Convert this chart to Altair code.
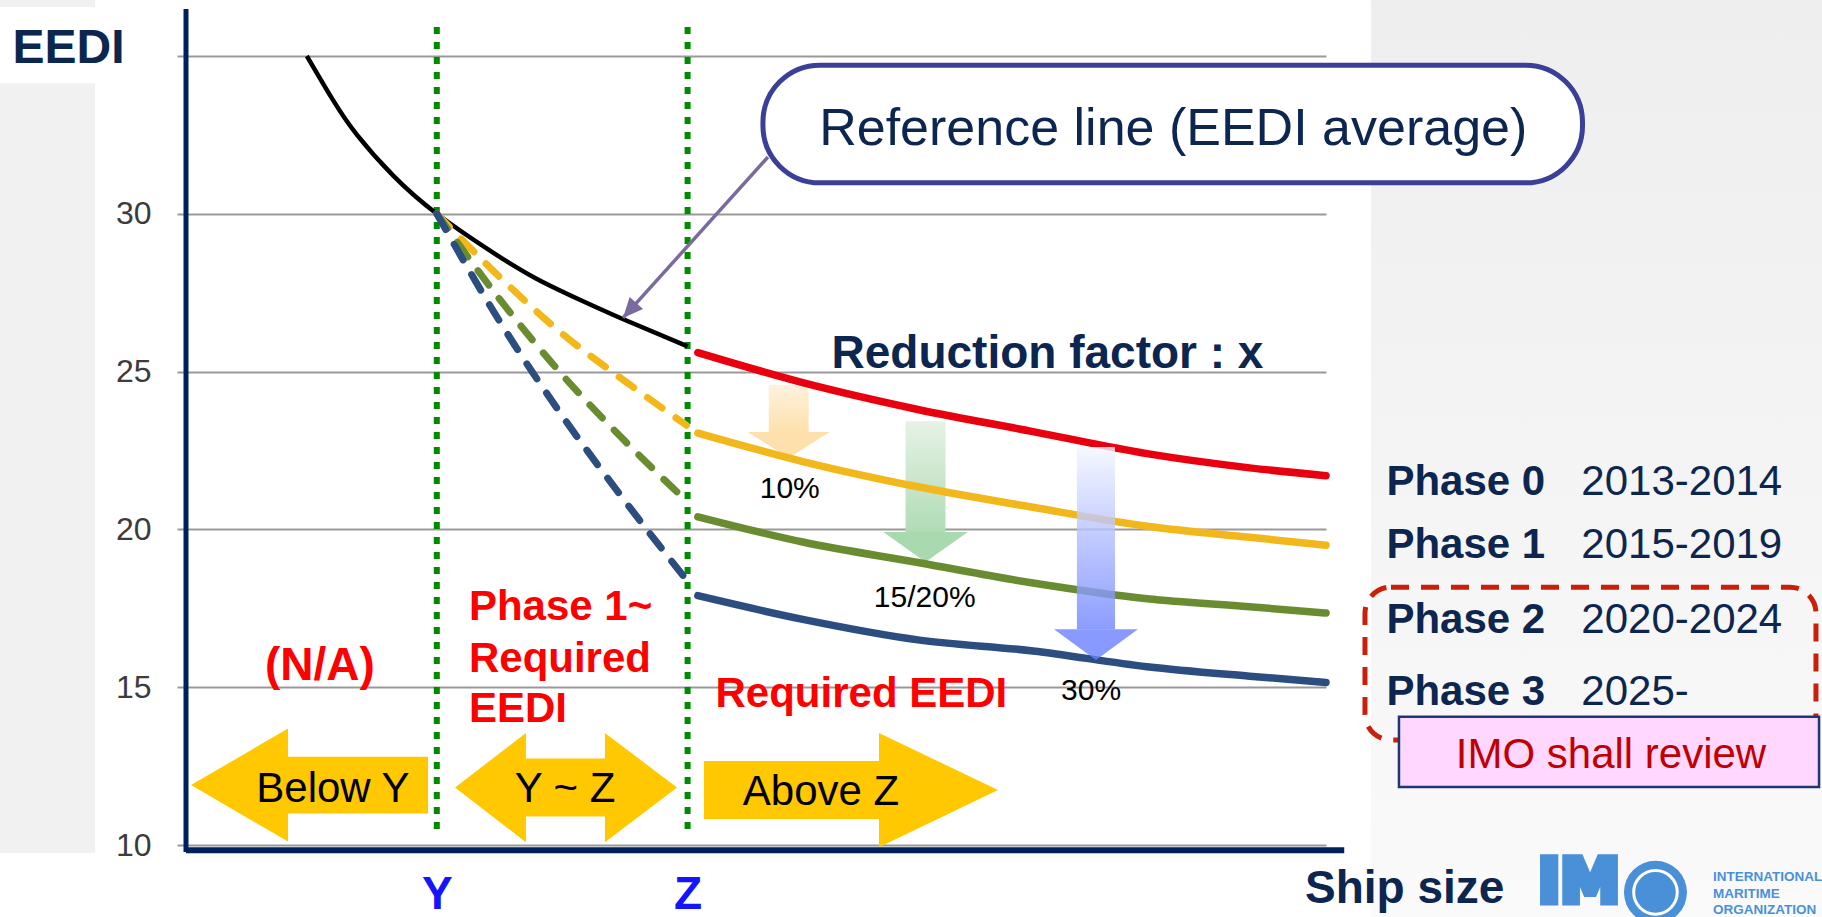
import altair as alt
import pandas as pd

# ---------------------------------------------------------------- data
# Ship size runs 0..100 along the x axis (arbitrary units), EEDI on y.

# reference line: average EEDI of existing ships
ref_size = [10.6, 12.9, 15.0, 18.2, 22.0, 26.8, 30.7, 34.4, 38.1, 44.0]
ref_eedi = [35.0, 33.6, 32.5, 31.2, 30.0, 28.8, 27.95, 27.3, 26.7, 25.8]

# required EEDI for ships above size Z, one line per phase
req_size = [44.9, 54.1, 64.2, 74.3, 84.3, 93.3, 100.0]
phase0_eedi = [25.6, 24.65, 23.8, 23.1, 22.4, 21.95, 21.7]
phase1_eedi = [23.05, 22.15, 21.35, 20.7, 20.1, 19.75, 19.5]
phase2_eedi = [20.4, 19.6, 18.95, 18.3, 17.8, 17.55, 17.35]
phase3_eedi = [17.9, 17.15, 16.5, 16.15, 15.65, 15.35, 15.15]

# between Y and Z the requirement ramps down from the reference value
ramp_size = [22.0, 27.5, 33.0, 38.5, 43.9]
ramp_phase1 = [30.0, 28.0, 26.2, 24.7, 23.3]
ramp_phase2 = [30.0, 27.3, 24.9, 22.8, 20.9]
ramp_phase3 = [30.0, 26.6, 23.6, 20.9, 18.4]

phase_names = ["Phase 0", "Phase 1", "Phase 2", "Phase 3"]
phase_years = ["2013-2014", "2015-2019", "2020-2024", "2025-"]
reduction_labels = ["10%", "15/20%", "30%"]

size_bounds = [22.0, 44.0]
bound_names = ["Y", "Z"]
eedi_ticks = [10, 15, 20, 25, 30, 35]

# ---------------------------------------------------------------- styles
NAVY = "#0c2650"
RED = "#ff0000"
YELLOW = "#ffc800"
LOGO = "#4a90d9"
SANS = "Liberation Sans"
phase_colors = ["#e8000e", "#f2b71b", "#6a8c30", "#2c4d7f"]

x_scale = alt.Scale(domain=[0, 100], nice=False, zero=False)
y_scale = alt.Scale(domain=[10, 35], nice=False, zero=False)

bound_expr = " : ".join(
    f"datum.value == {v} ? '{n}'" for v, n in zip(size_bounds, bound_names)
) + " : ''"

x_axis = alt.Axis(
    title=None, values=size_bounds, labelExpr=bound_expr, grid=False,
    ticks=False, tickSize=0, domain=False, labelFont=SANS, labelFontSize=46,
    labelFontWeight="bold", labelColor="#1414ff", labelPadding=27,
)
y_axis = alt.Axis(
    title=None, values=eedi_ticks, labelExpr="datum.value == 35 ? '' : datum.label",
    grid=True, gridColor="#999999", gridWidth=2, ticks=True, tickSize=9,
    tickWidth=2, tickColor="#999999", domain=False, labelFont=SANS,
    labelFontSize=32, labelColor="#3c3c3c", labelPadding=26,
)


def ex(field):
    return alt.X(field, type="quantitative", scale=x_scale, axis=x_axis)


def ey(field):
    return alt.Y(field, type="quantitative", scale=y_scale, axis=y_axis)


def vgrad(top, bottom):
    return {"gradient": "linear", "x1": 0, "y1": 0, "x2": 0, "y2": 1,
            "stops": [{"offset": 0, "color": top}, {"offset": 1, "color": bottom}]}


def box(x0, x1, y0, y1, **style):
    df = pd.DataFrame({"x0": [x0], "x1": [x1], "y0": [y0], "y1": [y1]})
    return alt.Chart(df).mark_rect(**style).encode(
        x=ex("x0"), x2=alt.X2("x1"), y=ey("y0"), y2=alt.Y2("y1"))


def text(rows, **style):
    df = pd.DataFrame(rows, columns=["x", "y", "t"])
    style.setdefault("font", SANS)
    return alt.Chart(df).mark_text(baseline="alphabetic", **style).encode(
        x=ex("x"), y=ey("y"), text="t:N")


layers = []

# ---------------------------------------------------------------- backdrop
layers.append(box(-16.4, -7.98, 34.14, 9.75, color="#f1f1f1"))
layers.append(box(-16.4, -7.98, 36.8, 36.55, color="#f1f1f1"))
layers.append(box(103.95, 144.0, 36.8, 7.6, fill=vgrad("#eeeeee", "#fbfafb")))

# axis lines
axis_df = pd.DataFrame({"x": [0.0], "y0": [36.49], "y1": [9.78]})
layers.append(alt.Chart(axis_df).mark_rule(color="#00205b", strokeWidth=5).encode(
    x=ex("x"), y=ey("y0"), y2=alt.Y2("y1")))
xline_df = pd.DataFrame({"x0": [0.0], "x1": [101.6], "y": [9.83]})
layers.append(alt.Chart(xline_df).mark_rule(color="#00205b", strokeWidth=6).encode(
    x=ex("x0"), x2=alt.X2("x1"), y=ey("y")))

# size boundaries Y and Z
bounds_df = pd.DataFrame({"size": size_bounds, "top": 35.92, "bottom": 10.38})
layers.append(alt.Chart(bounds_df).mark_rule(
    color="#008a00", strokeWidth=6, strokeDash=[7, 8]).encode(
    x=ex("size"), y=ey("top"), y2=alt.Y2("bottom")))

# ---------------------------------------------------------------- range arrows
body_rows = [
    (8.9, 21.23, 11.90 - 0.90, 11.90 + 0.90),
    (29.8, 36.8, 11.82 - 0.92, 11.82 + 0.92),
    (45.44, 60.85, 11.74 - 0.92, 11.74 + 0.92),
]
for x0, x1, y0, y1 in body_rows:
    layers.append(box(x0, x1, y0, y1, color=YELLOW))

heads = pd.DataFrame([
    ("below", 8.95, 11.90 - 1.79, 11.90 + 1.79), ("below", 0.44, 11.90, 11.90),
    ("mid_l", 29.82, 11.82 - 1.73, 11.82 + 1.73), ("mid_l", 23.6, 11.82, 11.82),
    ("mid_r", 36.75, 11.82 - 1.73, 11.82 + 1.73), ("mid_r", 43.07, 11.82, 11.82),
    ("above", 60.79, 11.74 - 1.81, 11.74 + 1.81), ("above", 71.23, 11.74, 11.74),
], columns=["id", "hx", "lo", "hi"])
layers.append(alt.Chart(heads).mark_area(orient="vertical", color=YELLOW).encode(
    x=ex("hx"), y=ey("lo"), y2=alt.Y2("hi"), detail="id:N"))


# ---------------------------------------------------------------- reduction arrows
def down_arrow(c, hw, top, base, hh, tip, shaft_top, shaft_bottom, head, opacity=1.0):
    shaft = box(c - hw, c + hw, top, base, fill=vgrad(shaft_top, shaft_bottom),
                opacity=opacity)
    hdf = pd.DataFrame({"hy": [base, tip], "hl": [c - hh, c], "hr": [c + hh, c]})
    tri = alt.Chart(hdf).mark_area(orient="horizontal", color=head, opacity=opacity).encode(
        y=ey("hy"), x=ex("hl"), x2=alt.X2("hr"))
    return [shaft, tri]


layers += down_arrow(52.87, 1.75, 24.58, 23.09, 3.6, 22.26, "#fdf2de", "#fde1ad", "#fde0ac")
layers += down_arrow(64.87, 1.75, 23.43, 19.92, 3.71, 18.97, "#e6f2e6", "#b0dcb5", "#a8d9af")

# ---------------------------------------------------------------- EEDI lines
ref_df = pd.DataFrame({"size": ref_size, "eedi": ref_eedi})
layers.append(alt.Chart(ref_df).mark_line(
    color="black", strokeWidth=4.5, interpolate="natural").encode(
    x=ex("size"), y=ey("eedi")))

color_enc = alt.Color("phase:N", scale=alt.Scale(domain=phase_names, range=phase_colors),
                      legend=None)

ramp_df = pd.concat([
    pd.DataFrame({"size": ramp_size, "eedi": vals, "phase": name})
    for name, vals in zip(phase_names[1:], [ramp_phase1, ramp_phase2, ramp_phase3])
])
layers.append(alt.Chart(ramp_df).mark_line(
    strokeWidth=7, strokeDash=[18, 17], strokeCap="round", interpolate="monotone").encode(
    x=ex("size"), y=ey("eedi"), color=color_enc))

req_df = pd.concat([
    pd.DataFrame({"size": req_size, "eedi": vals, "phase": name})
    for name, vals in zip(phase_names, [phase0_eedi, phase1_eedi, phase2_eedi, phase3_eedi])
])
layers.append(alt.Chart(req_df).mark_line(
    strokeWidth=7.5, strokeCap="round", interpolate="monotone").encode(
    x=ex("size"), y=ey("eedi"), color=color_enc))

layers += down_arrow(79.82, 1.67, 22.61, 16.84, 3.68, 15.86, "#f4f6ff", "#6f84ff",
                     "#6a80ff", opacity=0.8)

# ---------------------------------------------------------------- callout
call_df = pd.DataFrame({"x0": [51.05], "y0": [31.80], "x1": [38.33], "y1": [26.70]})
layers.append(alt.Chart(call_df).mark_rule(color="#7a6a9e", strokeWidth=3.5).encode(
    x=ex("x0"), y=ey("y0"), x2=alt.X2("x1"), y2=alt.Y2("y1")))
layers.append(alt.Chart(call_df).mark_point(
    shape="M 0 0 L -0.45 1 L 0.45 1 Z", size=1600, angle=222, filled=True,
    color="#7a6a9e", opacity=1, strokeWidth=0).encode(x=ex("x1"), y=ey("y1")))
layers.append(box(50.61, 122.5, 34.71, 30.98, fill="white", stroke="#3b3f98",
                  strokeWidth=5, cornerRadius=57))

# phase table frame
layers.append(box(103.42, 142.98, 18.17, 13.33, fillOpacity=0, stroke="#c8200a",
                  strokeWidth=5, strokeDash=[18, 12], cornerRadius=26))
layers.append(box(106.4, 143.25, 14.06, 11.84, fill="#ffd7ff", stroke="#1f3575",
                  strokeWidth=2.5))

# ---------------------------------------------------------------- text
layers.append(text([(-10.31, 34.78, "EEDI")], align="center", fontSize=48,
                   fontWeight="bold", color=NAVY))
layers.append(text([(86.6, 32.18, "Reference line (EEDI average)")], align="center",
                   fontSize=52, color=NAVY))
layers.append(text([(75.57, 25.11, "Reduction factor : x")], align="center",
                   fontSize=46, fontWeight="bold", color=NAVY))

phase_y = [21.09, 19.09, 16.72, 14.44]
layers.append(text([(105.3, y, n) for y, n in zip(phase_y, phase_names)],
                   align="left", fontSize=42, fontWeight="bold", color=NAVY))
layers.append(text([(122.4, y, t) for y, t in zip(phase_y, phase_years)],
                   align="left", fontSize=42, color=NAVY))
layers.append(text([(125.0, 12.44, "IMO shall review")], align="center", fontSize=42,
                   color="#c00000"))

layers.append(text([(11.75, 15.23, "(N/A)")], align="center", fontSize=46,
                   fontWeight="bold", color=RED))
layers.append(text([(24.82, 17.13, "Phase 1~"), (24.82, 15.48, "Required"),
                    (24.82, 13.90, "EEDI")], align="left", fontSize=42,
                   fontWeight="bold", color=RED))
layers.append(text([(46.45, 14.37, "Required EEDI")], align="left", fontSize=42,
                   fontWeight="bold", color=RED))

layers.append(text([(52.96, 20.99, reduction_labels[0]), (64.8, 17.54, reduction_labels[1]),
                    (79.39, 14.59, reduction_labels[2])], align="center", fontSize=30,
                   color="black"))
layers.append(text([(12.89, 11.36, f"Below {bound_names[0]}"),
                    (33.25, 11.36, f"{bound_names[0]} ~ {bound_names[1]}"),
                    (55.7, 11.27, f"Above {bound_names[1]}")], align="center",
                   fontSize=42, color="black"))

layers.append(text([(98.16, 8.16, "Ship size")], align="left", fontSize=46,
                   fontWeight="bold", color=NAVY))

# IMO logo
layers.append(text([(118.6, 8.2, "IM")], align="left", font="DejaVu Sans", fontSize=60,
                   fontWeight="bold", color=LOGO, stroke=LOGO, strokeWidth=7))
logo_df = pd.DataFrame({"x": [128.9], "y": [8.5]})
layers.append(alt.Chart(logo_df).mark_point(shape="circle", size=3969, filled=True,
                                            color=LOGO, opacity=1).encode(
    x=ex("x"), y=ey("y")))
layers.append(alt.Chart(logo_df).mark_point(shape="circle", size=1900, filled=False,
                                            stroke="white", strokeWidth=3, opacity=1).encode(
    x=ex("x"), y=ey("y")))
layers.append(text([(133.95, 8.87, "INTERNATIONAL"), (133.95, 8.33, "MARITIME"),
                    (133.95, 7.80, "ORGANIZATION")], align="left", fontSize=13.5,
                   fontWeight="bold", color=LOGO))

chart = alt.layer(*layers).properties(
    width=1140,
    height=789,
    padding={"left": 186, "top": 56, "right": 496, "bottom": 72},
    autosize=alt.AutoSizeParams(type="none"),
    background="#ffffff",
).configure_view(stroke=None)

chart.save("out.html", embed_options={"renderer": "svg", "actions": False})
